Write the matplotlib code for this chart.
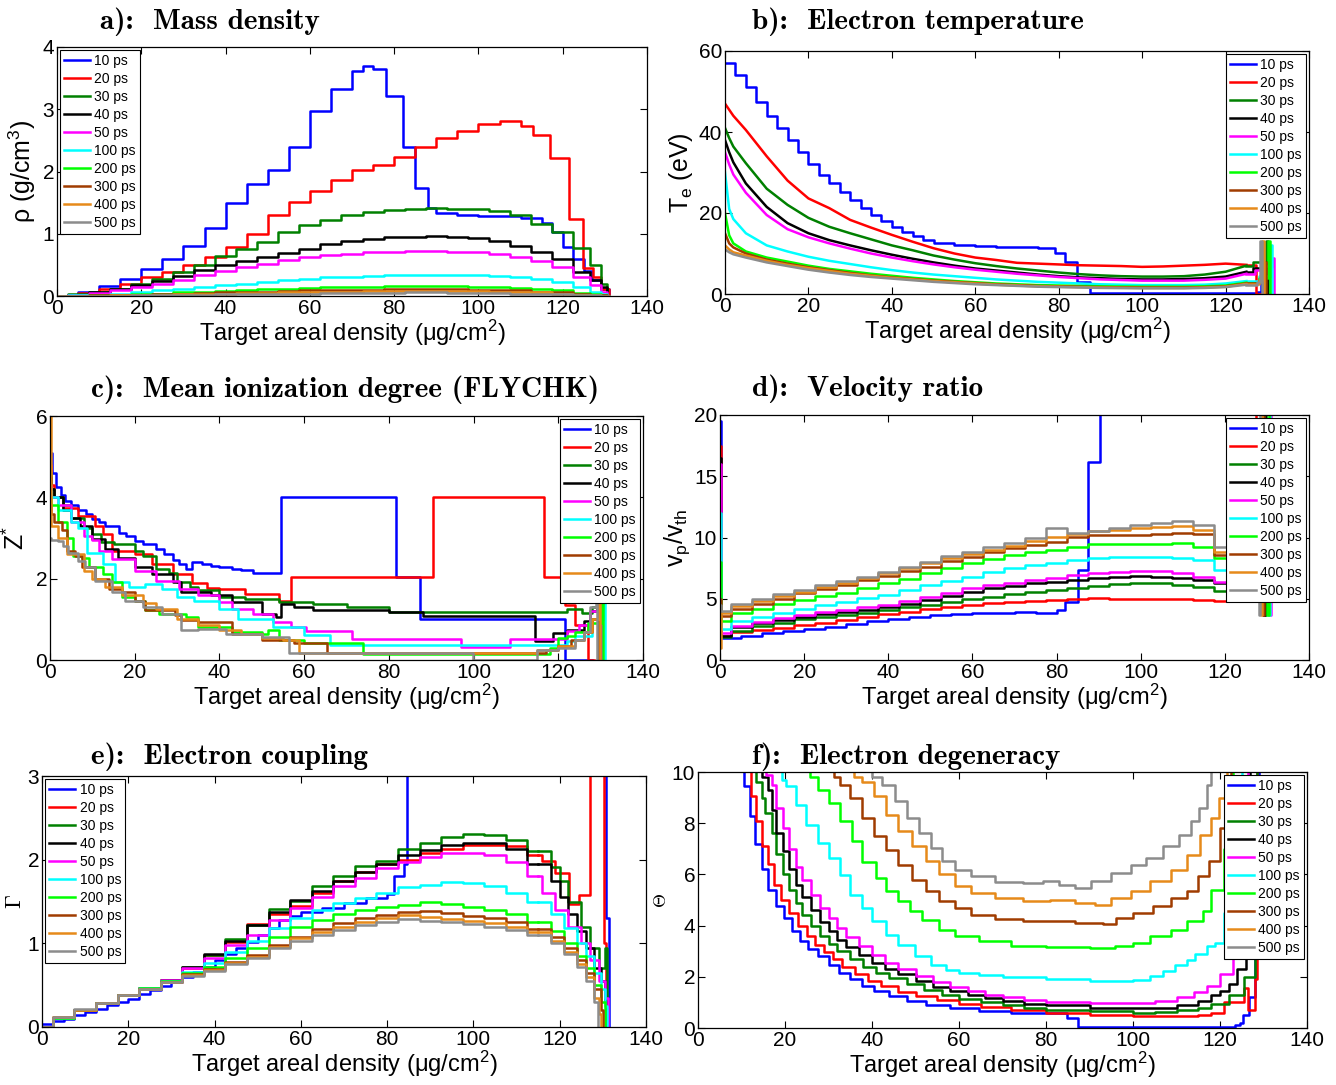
import matplotlib
matplotlib.use('Agg')
import matplotlib.pyplot as plt
from matplotlib.lines import Line2D

plt.rcParams['font.family'] = ['Liberation Sans', 'DejaVu Sans']
plt.rcParams['mathtext.fontset'] = 'custom'
plt.rcParams['mathtext.rm'] = 'Liberation Sans'
plt.rcParams['mathtext.it'] = 'Liberation Sans:italic'
plt.rcParams['mathtext.bf'] = 'Liberation Sans:bold'

LABELS = ['10 ps', '20 ps', '30 ps', '40 ps', '50 ps', '100 ps', '200 ps', '300 ps', '400 ps', '500 ps']
COLORS = ['#0000ff', '#ff0000', '#008000', '#000000', '#ff00ff', '#00ffff', '#00ff00', '#a03c00', '#e68a1a', '#8c8c8c']

# ---------------- a) mass density ----------------
A_BLUE_X = [0, 5, 10, 15, 20, 25, 30, 35, 40, 45, 50, 55, 60, 65, 70, 72.5, 75, 78, 82, 85,
            88, 90, 95, 100, 105, 110, 115, 117.5, 120, 122.5, 125, 127, 129, 131]
A_BLUE_Y = [0, 0.06, 0.16, 0.27, 0.43, 0.6, 0.81, 1.1, 1.49, 1.8, 2.03, 2.4, 2.97, 3.32, 3.62, 3.7, 3.65, 3.22, 2.4, 1.73,
            1.42, 1.33, 1.3, 1.29, 1.28, 1.25, 1.17, 1.03, 0.78, 0.6, 0.4, 0.25, 0.12, 0]
A_RED_X = [0, 5, 10, 15, 20, 25, 30, 35, 40, 45, 50, 55, 60, 65, 70, 75, 80, 85, 90, 95,
           100, 105, 108, 110, 113, 117, 121.5, 124.7, 127.2, 129, 131]
A_RED_Y = [0, 0.05, 0.12, 0.2, 0.3, 0.38, 0.49, 0.62, 0.78, 1.0, 1.3, 1.51, 1.68, 1.86, 2.03, 2.1, 2.24, 2.4, 2.54, 2.65,
           2.76, 2.81, 2.81, 2.73, 2.59, 2.22, 1.24, 0.45, 0.3, 0.12, 0]
A_GRID = [0, 5, 10, 15, 20, 25, 30, 35, 40, 45, 50, 55, 60, 65, 70, 75, 80, 85, 90, 95, 100, 105, 110, 115, 120, 125, 128, 130, 131]
A_REST = [
    [0, 0.03, 0.07, 0.12, 0.19, 0.28, 0.38, 0.5, 0.65, 0.76, 0.87, 1.03, 1.14, 1.22, 1.3, 1.35, 1.38, 1.4, 1.41, 1.4, 1.4, 1.36, 1.3, 1.16, 1.03, 0.77, 0.49, 0.19, 0],
    [0, 0.02, 0.06, 0.11, 0.17, 0.24, 0.32, 0.41, 0.5, 0.56, 0.62, 0.69, 0.76, 0.83, 0.89, 0.92, 0.94, 0.95, 0.96, 0.95, 0.93, 0.89, 0.81, 0.7, 0.59, 0.38, 0.25, 0.15, 0],
    [0, 0.02, 0.05, 0.1, 0.15, 0.2, 0.26, 0.33, 0.4, 0.46, 0.52, 0.58, 0.62, 0.66, 0.68, 0.7, 0.71, 0.72, 0.72, 0.71, 0.7, 0.67, 0.63, 0.56, 0.46, 0.3, 0.17, 0.06, 0],
    [0, 0.01, 0.02, 0.04, 0.06, 0.09, 0.12, 0.15, 0.18, 0.2, 0.23, 0.26, 0.28, 0.3, 0.31, 0.32, 0.33, 0.34, 0.34, 0.34, 0.33, 0.32, 0.3, 0.27, 0.22, 0.14, 0.07, 0.03, 0],
    [0, 0, 0.01, 0.02, 0.03, 0.04, 0.06, 0.07, 0.08, 0.1, 0.11, 0.12, 0.13, 0.14, 0.15, 0.15, 0.16, 0.16, 0.16, 0.16, 0.15, 0.14, 0.13, 0.11, 0.09, 0.05, 0.03, 0.01, 0],
    [0, 0, 0.01, 0.01, 0.02, 0.03, 0.04, 0.05, 0.06, 0.06, 0.07, 0.08, 0.09, 0.09, 0.1, 0.1, 0.11, 0.11, 0.11, 0.11, 0.1, 0.1, 0.09, 0.07, 0.06, 0.03, 0.02, 0.01, 0],
    [0, 0, 0, 0.01, 0.01, 0.02, 0.03, 0.03, 0.04, 0.05, 0.05, 0.06, 0.06, 0.07, 0.07, 0.08, 0.08, 0.08, 0.08, 0.08, 0.08, 0.07, 0.07, 0.06, 0.04, 0.02, 0.01, 0, 0],
    [0, 0, 0, 0, 0.01, 0.01, 0.02, 0.02, 0.03, 0.03, 0.04, 0.04, 0.04, 0.05, 0.05, 0.05, 0.05, 0.06, 0.06, 0.05, 0.05, 0.05, 0.04, 0.04, 0.03, 0.02, 0.01, 0, 0],
]

# ---------------- b) electron temperature ----------------
B_BLUE_X = [0, 2.5, 5, 7.5, 10, 12.5, 15, 17.5, 20, 22.5, 25, 27.5, 30, 32.5, 35, 37.5, 40, 42.5, 45, 47.5,
            50, 55, 60, 65, 70, 75, 79, 81.6, 84.5, 87.5, 127.5, 128.5, 129.2]
B_BLUE_Y = [57, 54, 51, 47.5, 44, 41, 38, 35, 32, 29.5, 27.3, 25.2, 23.2, 21.3, 19.5, 18, 16.6, 15.3, 14.2, 13.3,
            12.5, 12.1, 11.9, 11.7, 11.5, 11.3, 10.2, 8, 3, 0.3, 0.6, 4, 0]
B_GRID = [0, 1, 2, 5, 10, 15, 20, 25, 30, 35, 40, 45, 50, 55, 60, 65, 70, 75, 80, 85, 90, 95, 100, 105, 110, 115, 120, 125]
B_REST = [
    [47, 45.5, 44, 40.5, 34, 28, 23.6, 21.2, 18.3, 16.4, 14.6, 12.9, 11.3, 10, 9, 8.4, 7.7, 7.5, 7.3, 7.1, 7, 6.9, 6.7, 6.8, 7, 7.2, 7.5, 7.2],
    [41, 38.5, 36.4, 32.3, 26, 22, 18.8, 16.6, 15, 13.5, 12, 10.8, 9.5, 8.5, 7.6, 6.9, 6.3, 5.8, 5.3, 4.9, 4.6, 4.4, 4.3, 4.3, 4.4, 4.8, 5.5, 7],
    [38, 35, 32.5, 27.3, 21.5, 17.5, 15, 13.3, 12, 10.8, 9.7, 8.7, 7.8, 7, 6.3, 5.8, 5.3, 4.8, 4.4, 4.1, 3.9, 3.7, 3.6, 3.6, 3.7, 3.9, 4.3, 5.5],
    [35, 32, 29.5, 25, 19.5, 16, 14, 12.5, 11.2, 10, 9, 8.1, 7.3, 6.6, 6, 5.5, 5, 4.6, 4.2, 3.9, 3.6, 3.45, 3.3, 3.3, 3.3, 3.5, 3.8, 5],
    [30, 21, 18.5, 15, 12, 10.5, 9.2, 8.2, 7.4, 6.6, 5.9, 5.3, 4.8, 4.4, 4, 3.6, 3.3, 3, 2.8, 2.6, 2.4, 2.3, 2.2, 2.2, 2.2, 2.3, 2.6, 3.2],
    [20, 14.5, 12.5, 10.5, 9, 8, 7, 6.2, 5.6, 5, 4.5, 4, 3.6, 3.2, 2.9, 2.6, 2.4, 2.2, 2.1, 2, 1.9, 1.85, 1.8, 1.8, 1.8, 1.9, 2.1, 2.8],
    [15, 12.5, 11.5, 10, 8.5, 7.5, 6.6, 5.9, 5.2, 4.6, 4.1, 3.7, 3.3, 3, 2.7, 2.4, 2.2, 2, 1.9, 1.8, 1.7, 1.65, 1.6, 1.6, 1.6, 1.7, 1.9, 2.6],
    [12, 11, 10.3, 9.5, 8.2, 7.2, 6.4, 5.7, 5, 4.5, 4, 3.6, 3.2, 2.9, 2.6, 2.3, 2.1, 1.9, 1.8, 1.7, 1.6, 1.55, 1.5, 1.5, 1.5, 1.6, 1.8, 2.5],
    [11, 10.3, 9.8, 9, 7.8, 6.9, 6, 5.3, 4.7, 4.2, 3.8, 3.4, 3, 2.7, 2.4, 2.2, 2, 1.8, 1.7, 1.6, 1.5, 1.45, 1.4, 1.4, 1.4, 1.5, 1.7, 2.3],
]
B_TAIL_X = [
    [125, 127.3, 129],
    [125, 126.5, 129.8, 130.2],
    [125, 126.5, 129.6, 130.0],
    [125, 127, 129, 131.2, 131.5],
    [125, 128, 130.8, 131.2],
    [125, 128, 130.2, 130.6],
    [125, 128, 129.3, 129.7],
    [125, 128, 128.8, 129.2],
    [125, 127.5, 128.3, 128.7],
]
B_TAIL_Y = [
    [7.2, 0, 0],
    [7.0, 7.8, 13, 0],
    [5.5, 6.5, 8, 0],
    [5, 6, 7, 9, 0],
    [3.2, 4.5, 12, 0],
    [2.8, 4, 13, 0],
    [2.6, 3.5, 8, 0],
    [2.5, 3.5, 13, 0],
    [2.3, 3, 13, 0],
]

# ---------------- c) mean ionization ----------------
C_X = [
    [0, 0.5, 1.5, 2.5, 3.6, 5, 6.7, 8.5, 9.9, 11.5, 13, 16.2, 18, 20, 22, 25, 27, 29, 30.5, 32,
     33.5, 36, 38, 40, 43, 45, 48, 54.5, 81.7, 87.4, 121.7, 128],
    [0, 0.3, 1, 3, 6.7, 10.7, 12.5, 14.6, 20, 24, 29, 33.6, 37, 40, 46, 54, 56.9, 90.5, 116.7, 121.5, 124, 127, 128.5],
    [0, 0.3, 1, 3, 5, 8, 10, 12, 15, 20, 22, 25, 28, 30, 33, 35, 40, 46, 54, 62, 70, 80, 122, 125.5, 128, 129.7, 130.1],
    [0, 0.3, 1, 3, 5, 7, 9.9, 13, 16, 20, 24, 29, 31, 38, 43, 50, 53.4, 54.5, 57.5, 62, 80, 88, 114.5, 118.7, 122, 126, 127.5, 129.2, 129.6],
    [0, 0.3, 2, 5, 8, 10, 11.5, 14.6, 20, 25, 30.4, 35, 40, 43, 48, 52.6, 57, 60.5, 71.4, 97, 108.5, 122, 125, 127.5, 129.9, 130.3],
    [0, 0.3, 2, 5, 6.7, 8.7, 12.6, 15.4, 18.6, 22.5, 26.5, 30, 34, 40, 44.5, 52.6, 60, 66, 122, 124, 128, 130.7, 131.1],
    [0, 0.3, 2, 4, 5.5, 7.5, 9.1, 12.6, 14.6, 17, 20, 22.5, 25.7, 32, 35, 43, 50, 51.5, 54, 60, 74, 118, 120, 122, 124, 127, 130.2, 130.6],
    [0, 0.3, 1, 2.8, 4, 6, 7.5, 10.7, 14, 17, 20, 22.5, 29.6, 31, 35, 43, 50, 57.5, 65.4, 117, 120, 123, 126, 128, 129.3, 129.7],
    [0, 0.3, 2, 4, 8, 10, 13, 17, 22, 25, 30, 35, 40, 45, 50, 55, 58.9, 115, 120, 124, 126, 128, 129.5, 129.9],
    [0, 0.3, 2, 3, 4.3, 6.5, 8.3, 10.7, 14.6, 17.8, 22, 26.5, 31, 35, 41.5, 50, 56.5, 99.8, 115, 120, 124, 126, 127.5, 128.8, 129.2],
]
C_Y = [
    [5.1, 4.6, 4.25, 4.05, 3.9, 3.8, 3.7, 3.6, 3.46, 3.4, 3.3, 3.13, 3.05, 2.93, 2.85, 2.72, 2.6, 2.45, 2.35, 2.24,
     2.4, 2.36, 2.3, 2.28, 2.25, 2.21, 2.15, 4.0, 2.05, 1.0, 0, 0],
    [4.8, 4.3, 4.0, 3.75, 3.54, 3.3, 3.09, 2.68, 2.6, 2.36, 2.11, 1.9, 1.78, 1.75, 1.63, 1.46, 2.05, 4.0, 2.05, 1.35, 0.85, 0, 0],
    [4.6, 4.2, 4.0, 3.8, 3.5, 3.25, 3.1, 2.9, 2.85, 2.68, 2.55, 2.24, 2.15, 1.91, 1.8, 1.71, 1.54, 1.5, 1.42, 1.38, 1.3, 1.18, 1.26, 1.16, 1.3, 1.6, 0],
    [4.5, 4.2, 4.0, 3.7, 3.5, 3.3, 2.97, 2.72, 2.52, 2.28, 2.11, 1.91, 1.67, 1.59, 1.42, 1.14, 1.06, 1.37, 1.3, 1.24, 1.18, 1.08, 0.47, 0.67, 0.73, 0.96, 1.2, 1.6, 0],
    [4.3, 4.0, 3.8, 3.4, 3.05, 2.95, 2.68, 2.48, 2.2, 1.95, 1.75, 1.59, 1.42, 1.26, 1.14, 0.93, 0.82, 0.72, 0.51, 0.31, 0.51, 0.71, 0.85, 1.2, 1.6, 0],
    [4.2, 4.0, 3.7, 3.4, 3.25, 2.64, 2.36, 1.91, 1.79, 1.87, 1.75, 1.54, 1.46, 1.26, 1.02, 0.81, 0.62, 0.36, 0.47, 0.6, 1.0, 1.6, 0],
    [4.0, 3.8, 3.4, 3.0, 2.56, 2.52, 2.28, 2.11, 1.91, 1.54, 1.46, 1.22, 1.14, 1.06, 0.81, 0.69, 0.65, 0.73, 0.49, 0.42, 0.15, 0.3, 0.55, 0.6, 0.7, 0.9, 1.6, 0],
    [3.8, 3.6, 3.4, 3.2, 2.68, 2.56, 2.28, 2.0, 1.75, 1.67, 1.46, 1.22, 1.1, 0.98, 0.93, 0.65, 0.49, 0.41, 0.18, 0.25, 0.35, 0.5, 0.7, 1.0, 1.6, 0],
    [6.0, 3.3, 3.0, 2.6, 2.2, 2.0, 1.8, 1.6, 1.4, 1.25, 1.0, 0.85, 0.75, 0.65, 0.55, 0.5, 0.17, 0.25, 0.35, 0.5, 0.7, 1.0, 1.6, 0],
    [3.0, 2.95, 2.93, 2.8, 2.64, 2.44, 2.28, 1.95, 1.67, 1.46, 1.3, 1.14, 0.73, 0.77, 0.65, 0.57, 0.17, 0.0, 0.25, 0.3, 0.5, 0.7, 1.3, 1.6, 0],
]

# ---------------- d) velocity ratio ----------------
D_BLUE_X = [0, 0.3, 5, 10, 15, 20, 25, 30, 35, 40, 45, 50, 55, 60, 65, 70, 75, 78, 80, 82, 85, 87.5, 90.3]
D_BLUE_Y = [19.5, 1.8, 2.0, 2.18, 2.35, 2.5, 2.7, 2.94, 3.15, 3.35, 3.5, 3.67, 3.75, 3.81, 3.85, 3.9, 3.85, 3.8, 4.08, 4.76, 7.35, 16.2, 30]
D_GRID = [0, 0.3, 5, 10, 15, 20, 25, 30, 35, 40, 45, 50, 55, 60, 65, 70, 75, 80, 85, 90, 95, 100, 105, 110, 115, 120, 125]
D_REST = [
    [17.5, 2.0, 2.3, 2.45, 2.65, 2.86, 3.05, 3.27, 3.5, 3.73, 3.95, 4.14, 4.3, 4.49, 4.62, 4.76, 4.85, 4.9, 4.97, 5.03, 5.02, 5.0, 4.98, 4.95, 4.9, 4.84, 4.9],
    [8, 1.9, 2.4, 2.8, 3.05, 3.32, 3.5, 3.65, 3.85, 4.08, 4.3, 4.5, 4.75, 4.95, 5.15, 5.35, 5.55, 5.71, 5.9, 6.07, 6.18, 6.26, 6.25, 6.15, 6.0, 5.66, 4.9],
    [16.5, 2.0, 2.7, 3.0, 3.3, 3.54, 3.75, 3.95, 4.1, 4.3, 4.6, 4.9, 5.25, 5.58, 5.85, 6.07, 6.25, 6.4, 6.55, 6.72, 6.8, 6.86, 6.8, 6.67, 6.53, 6.26, 6.0],
    [16, 2.2, 2.8, 3.1, 3.4, 3.67, 3.9, 4.1, 4.3, 4.49, 4.85, 5.17, 5.5, 5.85, 6.1, 6.31, 6.5, 6.67, 6.9, 7.13, 7.22, 7.29, 7.25, 7.07, 6.8, 6.4, 6.7],
    [12, 2.5, 3.2, 3.5, 3.85, 4.2, 4.5, 4.76, 5.05, 5.3, 5.7, 6.12, 6.45, 6.8, 7.15, 7.48, 7.75, 7.95, 8.15, 8.3, 8.4, 8.44, 8.4, 8.3, 8.15, 7.35, 6.94],
    [8, 3.2, 3.8, 4.2, 4.55, 4.9, 5.2, 5.5, 5.85, 6.26, 6.65, 7.07, 7.5, 7.89, 8.25, 8.57, 8.8, 8.98, 9.25, 9.5, 9.5, 9.47, 9.5, 9.58, 9.25, 8.3, 7.9],
    [5, 3.6, 4.2, 4.6, 5.0, 5.44, 5.8, 6.12, 6.5, 6.86, 7.25, 7.62, 8.05, 8.44, 8.8, 9.12, 9.4, 9.66, 10.07, 10.2, 10.2, 10.2, 10.3, 10.4, 10.3, 8.57, 8.0],
    [1, 3.8, 4.4, 4.8, 5.2, 5.58, 5.95, 6.31, 6.7, 7.07, 7.5, 7.89, 8.3, 8.65, 9.0, 9.31, 9.7, 10.07, 10.3, 10.5, 10.6, 10.75, 10.85, 10.9, 10.6, 8.84, 8.2],
    [4.5, 4.0, 4.6, 5.0, 5.35, 5.71, 6.1, 6.45, 6.8, 7.2, 7.6, 8.03, 8.45, 8.84, 9.2, 9.58, 10.0, 10.75, 10.4, 10.55, 10.75, 11.0, 11.2, 11.37, 11.0, 9.25, 8.5],
]
D_TAIL_X = [
    [125, 127.4],
    [125, 127, 129.4, 129.8],
    [125, 127, 129.1, 129.5],
    [125, 128, 130.6, 131],
    [125, 128, 130.3, 130.7],
    [125, 128, 130, 130.4],
    [125, 127.5, 129, 129.4],
    [125, 127.5, 128.5, 128.9],
    [125, 127.5, 128, 128.4],
]
D_TAIL_Y = [
    [4.9, 30],
    [4.9, 4.8, 3.7, 30],
    [6.0, 5.0, 3.7, 30],
    [6.7, 6.5, 3.7, 30],
    [6.94, 6.5, 3.7, 30],
    [7.9, 7.0, 3.7, 30],
    [8.0, 7.5, 3.7, 30],
    [8.2, 7.5, 3.7, 30],
    [8.5, 7.8, 3.7, 30],
]

# ---------------- e) electron coupling ----------------
E_BLUE_X = [0, 2.5, 5, 7.5, 10, 12.5, 15, 17.5, 20, 22.5, 25, 27.5, 30, 32.5, 35, 37.5, 40, 42.5, 45, 47.5,
            50, 52.5, 55, 57.5, 60, 65, 70, 75, 80, 81.5, 84, 84.7, 130.8, 131.5]
E_BLUE_Y = [0.03, 0.07, 0.1, 0.14, 0.18, 0.22, 0.26, 0.3, 0.34, 0.39, 0.44, 0.49, 0.54, 0.6, 0.66, 0.72, 0.8, 0.87, 0.95, 1.02,
            1.1, 1.18, 1.28, 1.33, 1.37, 1.42, 1.48, 1.54, 1.59, 1.8, 1.95, 10, 1.3, 0]
E_GRID = [0, 5, 10, 15, 20, 25, 30, 35, 40, 45, 50, 55, 60, 65, 70, 75, 80, 85, 90, 95, 100, 105, 110, 115]
E_REST = [
    [0, 0.11, 0.2, 0.29, 0.38, 0.47, 0.56, 0.7, 0.86, 1.02, 1.23, 1.35, 1.45, 1.6, 1.75, 1.85, 1.95, 2.0, 2.08, 2.13, 2.17, 2.18, 2.16, 2.05],
    [0, 0.11, 0.2, 0.29, 0.38, 0.47, 0.56, 0.72, 0.86, 1.05, 1.22, 1.41, 1.51, 1.68, 1.8, 1.92, 1.99, 2.13, 2.2, 2.27, 2.31, 2.3, 2.23, 2.1],
    [0, 0.11, 0.2, 0.29, 0.38, 0.47, 0.56, 0.72, 0.87, 1.03, 1.22, 1.38, 1.52, 1.63, 1.75, 1.85, 1.95, 2.05, 2.12, 2.17, 2.2, 2.2, 2.13, 1.95],
    [0, 0.11, 0.2, 0.29, 0.38, 0.47, 0.56, 0.7, 0.82, 0.98, 1.1, 1.28, 1.42, 1.55, 1.68, 1.78, 1.9, 1.97, 2.03, 2.08, 2.08, 2.05, 1.97, 1.8],
    [0, 0.11, 0.2, 0.29, 0.38, 0.47, 0.55, 0.66, 0.76, 0.9, 1.03, 1.18, 1.3, 1.4, 1.48, 1.54, 1.6, 1.67, 1.7, 1.73, 1.72, 1.68, 1.6, 1.5],
    [0, 0.11, 0.2, 0.29, 0.38, 0.47, 0.55, 0.64, 0.72, 0.83, 0.94, 1.08, 1.2, 1.28, 1.35, 1.4, 1.43, 1.46, 1.5, 1.47, 1.44, 1.4, 1.35, 1.25],
    [0, 0.12, 0.2, 0.29, 0.38, 0.46, 0.54, 0.63, 0.69, 0.78, 0.86, 0.98, 1.08, 1.17, 1.24, 1.3, 1.34, 1.38, 1.39, 1.36, 1.33, 1.3, 1.25, 1.17],
    [0, 0.12, 0.2, 0.29, 0.38, 0.46, 0.54, 0.62, 0.68, 0.77, 0.84, 0.96, 1.06, 1.13, 1.2, 1.26, 1.3, 1.34, 1.31, 1.29, 1.27, 1.24, 1.2, 1.13],
    [0, 0.12, 0.21, 0.29, 0.38, 0.46, 0.54, 0.61, 0.67, 0.75, 0.82, 0.94, 1.03, 1.1, 1.16, 1.22, 1.26, 1.29, 1.27, 1.25, 1.23, 1.2, 1.16, 1.1],
]
E_TAIL_X = [
    [115, 116, 119, 122.2, 124.5, 127.1, 130.2, 130.8],
    [115, 118, 120, 122, 125, 127, 129, 130.5, 131],
    [115, 118, 120, 122, 124, 126, 128, 129.5, 130.5, 131],
    [115, 116, 119, 122, 125, 127, 129, 130.5, 131.3],
    [115, 118, 121, 124, 126, 128, 129.5, 130.5, 131],
    [115, 118, 121, 124, 126, 128, 129.5, 130.5],
    [115, 118, 121, 124, 126, 128, 129.5, 130],
    [115, 118, 121, 124, 126, 128, 129, 129.5],
    [115, 118, 121, 124, 126, 128, 128.8],
]
E_TAIL_Y = [
    [2.05, 1.98, 1.84, 1.47, 1.58, 10, 1.0, 0],
    [2.1, 1.91, 1.75, 1.5, 1.2, 0.95, 0.7, 0.95, 0],
    [1.95, 1.75, 1.55, 1.35, 1.15, 0.95, 0.7, 0.55, 0.3, 0],
    [1.8, 1.6, 1.4, 1.2, 1.0, 0.8, 0.55, 0.35, 0],
    [1.5, 1.35, 1.18, 1.0, 0.85, 0.65, 0.45, 0.25, 0],
    [1.25, 1.15, 1.0, 0.85, 0.7, 0.5, 0.3, 0],
    [1.17, 1.08, 0.95, 0.8, 0.65, 0.45, 0.2, 0],
    [1.13, 1.03, 0.9, 0.75, 0.6, 0.35, 0.15, 0],
    [1.1, 1.0, 0.87, 0.72, 0.55, 0.3, 0],
]

# ---------------- f) electron degeneracy ----------------
F_X = [
    [9, 10.6, 12, 13, 14.7, 16.1, 18, 19.8, 21.7, 23.5, 25.3, 27.6, 30, 32.3, 35, 37.8, 40.5, 44, 48, 52.5,
     58, 64.5, 72, 84.8, 87.4, 123.5, 124.5, 125.3, 126.7, 128, 128.9],
    [11, 12.2, 13.4, 14.7, 16, 17.5, 19, 21, 23, 25, 27, 29, 31, 33, 36, 39, 42, 46, 50, 55,
     60, 65, 72, 80, 90, 100, 110, 115, 118, 121, 125.5, 126.4, 128, 128.6],
    [12, 13.4, 14.7, 15.5, 17, 18, 19.5, 21, 22.5, 24, 26, 28, 30, 32, 35, 38, 41, 44, 48, 52,
     56, 60, 65, 70, 75, 80, 90, 100, 105, 110, 115, 118, 122, 125.5, 128, 128.6],
    [13, 14.7, 16, 17, 18, 19.5, 21, 22.5, 24, 26, 28, 30, 32, 34, 37, 40, 43, 46, 50, 54,
     58, 62, 66, 70, 75, 80, 90, 100, 105, 110, 115, 118, 120, 122, 124, 126, 127],
    [14, 15.7, 17, 18, 19.5, 21, 22.5, 24, 26, 28, 30, 32, 34, 37, 40, 43, 46, 50, 54, 58,
     62, 66, 70, 75, 80, 90, 100, 105, 110, 114, 117, 120, 123, 125, 126.5],
    [18, 19.2, 20.3, 22.6, 24.9, 27.6, 30, 32.7, 35, 37.8, 40, 43.3, 46, 49.8, 53.5, 57, 60, 64.5, 70, 80,
     90, 100, 104, 106.9, 109.7, 112.4, 114.3, 117, 118.9, 121, 123, 125],
    [24, 25.8, 27.6, 30, 32.7, 35.5, 37.8, 41, 43.3, 46, 48.8, 51.6, 55.3, 59, 64.5, 71.9, 80, 90, 95.9, 100,
     104, 108.8, 112.5, 116, 118, 121, 123],
    [30, 31.3, 32.7, 35, 37.8, 40.5, 43.3, 46, 49.3, 52.5, 55.3, 59, 62.7, 68.2, 74.7, 86.6, 93, 96, 100, 104.5,
     108.8, 112.4, 115, 117.5, 120, 122.5],
    [34, 35.9, 37.8, 40.5, 43.3, 46, 49.3, 52.5, 55.3, 59, 62.7, 68.2, 74.7, 81, 86.6, 91.2, 95, 99.5, 104, 108.8,
     112.4, 115.5, 118, 119.8, 121.5],
    [38, 40, 42.4, 45.2, 48, 50.7, 53.5, 56.2, 59, 62.7, 68.2, 74.7, 79.3, 83, 86.6, 90.3, 95, 99.5, 103, 106.9,
     110.6, 113.4, 115.2, 117, 118],
]
F_Y = [
    [15, 9.45, 8.3, 7.2, 6.2, 5.4, 4.75, 4.3, 3.8, 3.4, 3.1, 2.8, 2.45, 2.15, 1.9, 1.65, 1.45, 1.25, 1.05, 0.9,
     0.78, 0.68, 0.58, 0.4, 0.05, 0.1, 0.2, 0.5, 1.2, 3, 15],
    [15, 9.05, 8.07, 7.1, 6.4, 5.6, 5.0, 4.5, 4.0, 3.6, 3.25, 2.95, 2.7, 2.4, 2.1, 1.85, 1.65, 1.42, 1.25, 1.08,
     0.95, 0.82, 0.72, 0.6, 0.52, 0.45, 0.45, 0.5, 0.6, 1.0, 1.55, 0.7, 1.9, 15],
    [15, 9.6, 9.0, 8.4, 7.6, 6.8, 6.0, 5.4, 4.9, 4.4, 4.0, 3.6, 3.3, 3.0, 2.7, 2.4, 2.15, 1.95, 1.7, 1.5,
     1.3, 1.15, 1.0, 0.88, 0.8, 0.72, 0.65, 0.6, 0.62, 0.7, 0.8, 0.95, 1.3, 2.0, 4.0, 15],
    [15, 9.8, 9.3, 8.5, 7.6, 6.9, 6.2, 5.6, 5.1, 4.6, 4.15, 3.8, 3.45, 3.15, 2.85, 2.55, 2.3, 2.1, 1.85, 1.6,
     1.45, 1.3, 1.17, 1.05, 0.95, 0.88, 0.8, 0.77, 0.8, 0.9, 1.05, 1.3, 1.45, 1.7, 2.3, 3.0, 15],
    [15, 9.9, 9.5, 8.6, 7.8, 7.0, 6.3, 5.8, 5.2, 4.7, 4.3, 3.9, 3.55, 3.2, 2.85, 2.55, 2.3, 2.05, 1.8, 1.6,
     1.45, 1.3, 1.2, 1.1, 1.03, 0.97, 0.97, 1.05, 1.2, 1.4, 1.65, 2.1, 2.8, 4.0, 15],
    [15, 9.7, 9.44, 8.7, 7.94, 7.23, 6.64, 5.99, 5.2, 4.69, 4.17, 3.65, 3.26, 2.8, 2.47, 2.28, 2.15, 2.06, 1.98, 1.93,
     1.85, 1.89, 2.02, 2.21, 2.47, 2.67, 2.89, 3.19, 3.32, 4.5, 6.5, 15],
    [15, 9.8, 9.3, 8.8, 8.07, 7.3, 6.5, 5.86, 5.34, 4.95, 4.56, 4.23, 3.84, 3.58, 3.39, 3.22, 3.15, 3.12, 3.19, 3.32,
     3.58, 3.84, 4.17, 4.56, 5.4, 7.0, 15],
    [15, 9.8, 9.5, 9.0, 8.2, 7.5, 6.97, 6.38, 5.79, 5.34, 4.95, 4.69, 4.43, 4.26, 4.17, 4.1, 4.06, 4.3, 4.49, 4.75,
     5.08, 5.34, 5.92, 6.51, 7.8, 15],
    [15, 9.8, 9.6, 9.05, 8.33, 7.68, 7.1, 6.51, 6.0, 5.53, 5.27, 5.08, 4.97, 5.0, 4.88, 4.79, 5.08, 5.34, 5.73, 6.18,
     6.77, 7.55, 8.2, 9.0, 15],
    [15, 9.8, 9.5, 8.85, 8.2, 7.62, 7.03, 6.51, 6.18, 5.92, 5.7, 5.66, 5.73, 5.6, 5.47, 5.73, 6.05, 6.38, 6.64, 7.1,
     7.55, 8.07, 8.6, 9.5, 15],
]

# ---------------- layout ----------------
W, H = 1336, 1085
LW = 1.8
fig = plt.figure(figsize=(W / 100, H / 100), dpi=100)

def make_axes(l, t, r, b):
    return fig.add_axes([l / W, 1 - b / H, (r - l) / W, (b - t) / H])

def style(ax, ymax, yticks):
    ax.set_xlim(0, 140)
    ax.set_ylim(0, ymax)
    ax.set_xticks(range(0, 141, 20))
    ax.set_yticks(yticks)
    ax.tick_params(direction='in', top=True, right=True, length=5, width=0.8,
                   labelsize=15, pad=2)
    for s in ax.spines.values():
        s.set_linewidth(0.9)
    ax.set_xlabel('Target areal density (μg/cm$^2$)', fontsize=17, labelpad=0)

def legend(ax, loc):
    handles = [Line2D([], [], color=c, lw=LW) for c in COLORS]
    lg = ax.legend(handles, LABELS, loc=loc, fontsize=10, handlelength=1.9,
                   handletextpad=0.3, labelspacing=0.29, borderpad=0.25,
                   borderaxespad=0.25, fancybox=False, framealpha=1,
                   edgecolor='black')
    lg.get_frame().set_linewidth(0.8)
    lg.set_zorder(10)

def title(x, y, s):
    fig.text(x / W, 1 - y / H, s, fontfamily='cmb10', fontsize=21, ha='left', va='baseline')

# a)
axA = make_axes(57, 47, 647, 296)
axA.plot(A_BLUE_X, A_BLUE_Y, color=COLORS[0], lw=LW, drawstyle='steps-post')
axA.plot(A_RED_X, A_RED_Y, color=COLORS[1], lw=LW, drawstyle='steps-post')
for i, ys in enumerate(A_REST):
    axA.plot(A_GRID, ys, color=COLORS[i + 2], lw=LW, drawstyle='steps-mid')
style(axA, 4, [0, 1, 2, 3, 4])
axA.set_ylabel('ρ (g/cm$^3$)', fontsize=18, labelpad=3)
legend(axA, 'upper left')
title(100, 29, 'a):  Mass density')

# b)
axB = make_axes(725, 51, 1309, 294)
axB.plot(B_BLUE_X, B_BLUE_Y, color=COLORS[0], lw=LW, drawstyle='steps-post')
for i, ys in enumerate(B_REST):
    axB.plot(B_GRID, ys, color=COLORS[i + 1], lw=LW)
    axB.plot(B_TAIL_X[i], B_TAIL_Y[i], color=COLORS[i + 1], lw=LW, drawstyle='steps-post')
style(axB, 60, [0, 20, 40, 60])
axB.set_ylabel(r'T$_\mathrm{e}$ (eV)', fontsize=18, labelpad=3)
legend(axB, 'upper right')
title(752, 29, 'b):  Electron temperature')

# c)
axC = make_axes(50, 416, 643, 660)
for i in range(10):
    axC.plot(C_X[i], C_Y[i], color=COLORS[i], lw=LW, drawstyle='steps-post')
style(axC, 6, [0, 2, 4, 6])
axC.set_ylabel(r'Z$^\mathrm{*}$', fontsize=18, labelpad=5)
legend(axC, 'upper right')
title(91, 397, 'c):  Mean ionization degree (FLYCHK)')

# d)
axD = make_axes(720, 415, 1309, 660)
axD.plot(D_BLUE_X, D_BLUE_Y, color=COLORS[0], lw=LW, drawstyle='steps-post')
for i, ys in enumerate(D_REST):
    axD.plot(D_GRID, ys, color=COLORS[i + 1], lw=LW, drawstyle='steps-mid')
    axD.plot(D_TAIL_X[i], D_TAIL_Y[i], color=COLORS[i + 1], lw=LW, drawstyle='steps-post')
style(axD, 20, [0, 5, 10, 15, 20])
axD.set_ylabel(r'v$_\mathrm{p}$/v$_\mathrm{th}$', fontsize=18, labelpad=1)
legend(axD, 'upper right')
title(752, 396, 'd):  Velocity ratio')

# e)
axE = make_axes(42, 776, 646, 1027)
axE.plot(E_BLUE_X, E_BLUE_Y, color=COLORS[0], lw=LW, drawstyle='steps-post')
for i, ys in enumerate(E_REST):
    axE.plot(E_GRID, ys, color=COLORS[i + 1], lw=LW, drawstyle='steps-mid')
    axE.plot(E_TAIL_X[i], E_TAIL_Y[i], color=COLORS[i + 1], lw=LW, drawstyle='steps-post')
style(axE, 3, [0, 1, 2, 3])
axE.set_ylabel(r'$\Gamma$', fontsize=16, labelpad=1, math_fontfamily='cm')
legend(axE, 'upper left')
title(91, 764, 'e):  Electron coupling')

# f)
axF = make_axes(698, 772, 1307, 1028)
for i in range(10):
    axF.plot(F_X[i], F_Y[i], color=COLORS[i], lw=LW, drawstyle='steps-post')
style(axF, 10, [0, 2, 4, 6, 8, 10])
axF.set_ylabel(r'$\Theta$', fontsize=13, labelpad=1, math_fontfamily='cm')
legend(axF, 'upper right')
title(752, 764, 'f):  Electron degeneracy')

fig.savefig('out.png', dpi=100)
